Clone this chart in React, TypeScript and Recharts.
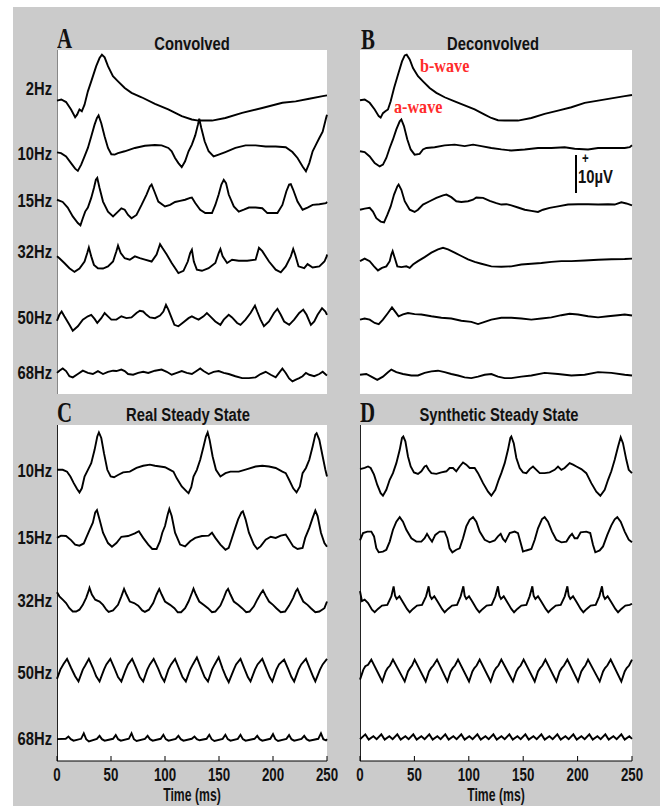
import { LineChart, Line, XAxis, YAxis } from "recharts";

// time in ms, amplitude in µV (relative to each trace's own baseline)
const TIME_TICKS = [0, 50, 100, 150, 200, 250];

const CONV_LABELS = ["2Hz", "10Hz", "15Hz", "32Hz", "50Hz", "68Hz"];
const STEADY_LABELS = ["10Hz", "15Hz", "32Hz", "50Hz", "68Hz"];

// vertical stacking of the rows, µV above the panel floor
const CONV_OFFSETS = [79.3, 65.3, 52.5, 37.2, 19.8, 5.7];
const DECONV_OFFSETS = [79.4, 65.6, 49.8, 35.9, 20.1, 5.2];
const REAL_OFFSETS = [78.7, 60.3, 43.6, 24.7, 5.9];
const SYNTH_OFFSETS = [78.9, 59.6, 42.7, 24.5, 6.3];
const CONV_LABEL_POS = [82.7, 65.1, 52.2, 38.4, 20.8, 5.7];
const STEADY_LABEL_POS = [78.6, 60.3, 43.5, 23.8, 6.2];

type Pt = [number, number];

// ---- A: convolved ----
const CONV_2HZ: Pt[] = [
  [0, 0], [4, 0.3], [8.4, -0.4], [13, -2.4], [16.8, -4.5], [18.6, -3.8], [20.8, -2.4], [23, -2.9],
  [25.5, -1.1], [28.6, 2.5], [31.7, 5.2], [36.3, 9.3], [39.4, 11.5], [41.6, 12.4], [44.1, 11.7],
  [47.2, 9.3], [51.8, 6.6], [56.5, 5.2], [62.7, 3.4], [69, 2.1], [78.3, 0.9], [90.7, -0.9],
  [103, -2.4], [115.5, -4.2], [124.8, -5.1], [131, -5.4], [143.5, -5.4], [155.9, -4.7],
  [171.4, -3.3], [190, -2.0], [208.7, -0.6], [221, -0.2], [233.5, 0.5], [246, 1.2], [250, 1.4],
];
const CONV_10HZ: Pt[] = [
  [0, 0], [3.7, -0.2], [8.4, -1.1], [13, -2.9], [16.8, -4.4], [19.3, -5.0], [22.4, -3.3], [25.5, -1.1],
  [28.6, 1.2], [31.7, 4.3], [34.8, 7.5], [37, 9.3], [38.5, 10.0], [41, 7.9], [44.1, 4.3], [47.2, 1.2],
  [50.3, -0.5], [53.4, -0.6], [56.5, -0.2], [62.7, 0.3], [72.1, 1.2], [81.4, 1.8], [90.7, 2.0],
  [96.9, 1.9], [103.1, 1.2], [106.2, 0.3], [109.3, -1.5], [112.4, -2.9], [115.5, -4.0], [118.6, -2.4],
  [121.8, 0.3], [124.9, 2.1], [128, 4.6], [130.5, 7.5], [131.7, 9.1], [133.6, 6.6], [136.7, 3.0],
  [140.4, 0.3], [145, -1.1], [149.7, -0.6], [155.9, 0.1], [165.2, 1.2], [174.6, 1.9], [183.9, 1.9],
  [193.2, 1.6], [202.5, 1.6], [211.8, 1.4], [218, 0.1], [222.7, -1.5], [227.4, -3.8], [230.5, -5.1],
  [233.6, -2.9], [236.7, 0.3], [239.8, 2.1], [242.9, 3.9], [246, 5.6], [249.1, 9.2], [250, 10.2],
];
const CONV_15HZ: Pt[] = [
  [0, 0], [5.3, -0.6], [9.9, -2.1], [14.6, -4.5], [19.3, -6.3], [21.7, -6.9], [23.9, -5.0], [26.1, -3.2],
  [28.6, -2.1], [31.7, 0.5], [34.2, 3.2], [36, 5.4], [37.3, 5.9], [39.4, 3.2], [42.6, -0.5], [47.2, -3.2],
  [51.9, -4.5], [56.5, -3.2], [59.6, -2.3], [62.7, -2.7], [65.8, -4.1], [69, -5.0], [73.6, -4.1],
  [78.3, -1.4], [82.9, 1.4], [86, 3.6], [87.6, 4.1], [90.1, 2.3], [93.8, -0.5], [100, -1.8],
  [104.7, -1.4], [109.3, -0.6], [114, -0.3], [118.6, 0], [123.3, 0.5], [124.9, 0.6], [128, -0.9],
  [132.6, -2.7], [137.3, -3.6], [143.5, -3.6], [146.6, -1.4], [149.7, 1.4], [152.2, 4.1], [154.4, 5.4],
  [156.5, 4.5], [159, 1.4], [163.7, -1.8], [168.3, -3.2], [173, -2.7], [177.7, -2.1], [183.9, -2.1],
  [190.1, -2.3], [194.8, -3.6], [199.4, -3.6], [204.1, -3.6], [208.7, -1.4], [212.4, 2.3], [214.9, 4.1],
  [216.5, 4.2], [218.7, 2.7], [222.7, -0.5], [227.4, -2.7], [232, -2.1], [236.7, -1.4], [242.9, -1.2],
  [249.1, -0.9], [250, -0.6],
];
const CONV_32HZ: Pt[] = [
  [0, 0], [2.2, -0.5], [6.8, -1.8], [11.5, -3.2], [16.2, -4.2], [20.8, -3.3], [25.5, -1.4], [28, 0.9],
  [29.5, 2.4], [31.7, 0], [34.2, -2.3], [37.9, -3.2], [42.6, -3.3], [47.2, -2.7], [51.9, -1.4], [55, 1.4],
  [56.5, 2.9], [59, 0.9], [62.7, -0.5], [67.4, -0.9], [72.1, 0], [76.7, -0.5], [81.4, -0.9], [87.6, -1.4],
  [92.2, 0.5], [95.4, 3.3], [97.5, 2.3], [101.6, 0.5], [106.2, -1.8], [112.4, -4.5], [117.1, -3.9],
  [121.1, -1.4], [123.3, 0.9], [124.9, 1.8], [126.7, -1.4], [129.5, -3.6], [134.2, -3.9], [140.4, -3.2],
  [146.6, -1.8], [149.7, 0.9], [151.3, 2.0], [153.4, 0], [157.5, -1.8], [162.1, -0.9], [168.3, -1.2],
  [176.1, -1.2], [183.9, -0.9], [187, 2.3], [190.1, 1.4], [196.3, -1.4], [202.5, -3.6], [207.2, -4.3],
  [211.8, -2.7], [216.5, 0], [218.7, 2.0], [220.5, 0.5], [223.6, -2.7], [228.9, -3.2], [232, -2.1],
  [236.7, -3.0], [242.9, -2.7], [247.6, -1.4], [249.7, 0], [250, 0.5],
];
const CONV_50HZ: Pt[] = [
  [0, 0], [2.2, 1.6], [4.3, 2.5], [6.8, 1.2], [11.5, -1.1], [14.6, -2.7], [19.3, -1.5], [23.9, 0.3],
  [28.6, 1.2], [31.7, 1.6], [34.8, 0.5], [37.3, -0.6], [41, 0.7], [44.1, 2.1], [47.2, 1.2], [50.3, 0.3],
  [55, 0.3], [59.6, 1.2], [64.3, 0.7], [69, 0.9], [73.6, 2.1], [76.7, 2.7], [79.8, 2.5], [82.9, 1.6],
  [86, 0.9], [90.7, 0.7], [95.4, 1.4], [98.5, 2.5], [100.9, 4.3], [103.1, 3.0], [106.2, 0.7],
  [108.7, -1.1], [112.4, -1.5], [117.1, -0.4], [121.8, 0.7], [124.9, 1.2], [128, 0.7], [131.1, 0.3],
  [135.7, 1.2], [138.8, 2.1], [141.9, 1.2], [146.6, -0.2], [151.3, -1.1], [154.4, 0.3], [159, 1.6],
  [162.1, 0.9], [166.8, -0.6], [169.9, -1.1], [174.6, 0.3], [179.2, 2.1], [183.3, 4.1], [185.4, 2.5],
  [188.5, 0.3], [191.6, -1.5], [196.3, -0.2], [200.9, 2.1], [204.1, 3.2], [207.2, 1.6], [210.3, -0.2],
  [215, -1.1], [219.6, 0.3], [224.3, 2.1], [228, 3.0], [231.1, 1.6], [235.1, -1.1], [238.2, -0.2],
  [241.3, 1.6], [245.4, 3.4], [248.5, 2.5], [250, 1.6],
];
const CONV_68HZ: Pt[] = [
  [0, 0], [2.2, 0.6], [5.3, 1.2], [8.4, 0.5], [11.5, -0.9], [14.6, -1.2], [19.3, -0.3], [23.9, 0.6],
  [28.6, 0], [33.2, -0.3], [37.9, 0.5], [42.6, -0.3], [47.2, 0.3], [51.9, 0.6], [55, 0.5], [59.6, 0.9],
  [62.7, 0.5], [65.8, -0.3], [70.5, -0.5], [75.2, 0], [79.8, 0.3], [84.5, 0], [90.7, 0.6], [96.9, 0.9],
  [101.6, 0.3], [106.2, -0.5], [110.9, 0], [115.5, 0.5], [120.2, 0], [124.9, -0.3], [129.5, 0.6],
  [132.6, 1.2], [135.7, 0.5], [140.4, -0.3], [145, 0.3], [149.7, 0.5], [154.4, 0], [159, -0.3],
  [165.2, -0.9], [171.4, -1.4], [177.7, -1.4], [183.9, -1.2], [188.5, -0.3], [193.2, 0.3], [197.9, -0.5],
  [202.5, -1.2], [205.6, 0], [208.7, 1.2], [211.8, 0], [214.9, -1.5], [218, -2.3], [221.2, -1.8],
  [224.3, -1.4], [227.4, -0.9], [230.5, 0], [233.6, -0.5], [238.2, -0.9], [242.9, -0.3], [246, 0.3],
  [249.1, -0.5], [250, -0.7],
];

// ---- B: deconvolved ----
const DECONV_2HZ: Pt[] = [
  [0, 0], [4.3, 0.2], [8.9, -0.7], [13.5, -2.5], [17.2, -4.3], [19, -4.7], [21.1, -3.5], [23.3, -3.0],
  [25.7, -2.5], [28.2, -0.3], [31.3, 3.3], [34.9, 6.9], [38.6, 10.5], [41.1, 12.1], [42.9, 12.3],
  [45.7, 11.0], [48.7, 8.7], [53.3, 6.5], [57.9, 5.1], [64, 3.3], [70.2, 2.0], [77.8, 0.8], [87, -0.3],
  [96.2, -1.4], [105.4, -2.5], [114.6, -3.9], [120.7, -4.8], [126.8, -5.4], [133, -5.5], [145.2, -5.5],
  [157.5, -4.8], [169.7, -3.7], [182, -2.8], [194.3, -1.9], [206.5, -0.7], [218.8, -0.1], [231, 0.5],
  [243.3, 1.1], [250, 1.4],
];
const DECONV_10HZ: Pt[] = [
  [0, 0], [4.3, -0.2], [8.9, -1.4], [13.5, -3.2], [18.1, -4.1], [21.1, -3.6], [24.2, -1.8], [27.3, 0.9],
  [30.3, 3.2], [33.4, 5.9], [36.5, 8.1], [38, 8.6], [40.4, 6.8], [43.5, 3.2], [46.6, 0.5], [50.2, -0.9],
  [54.8, -0.7], [57.9, 0.5], [61, 0.9], [68.6, 1.1], [77.8, 1.6], [87, 1.8], [96.2, 1.4], [103.9, 1.8],
  [111.5, 1.4], [120.7, 0.9], [129.9, 0.5], [139.1, 0.2], [151.4, 0.5], [163.6, 0.9], [175.9, 0.9],
  [188.1, 1.1], [197.3, 0.7], [209.6, 0.5], [218.8, 0.9], [231, 0.9], [243.3, 0.9], [247.9, 1.1],
  [250, 1.6],
];
const DECONV_15HZ: Pt[] = [
  [0, 0], [4.3, 0.3], [8.9, 0.5], [11.9, -0.5], [15, -2.3], [19, -3.2], [22.1, -3.4], [25.1, -1.4],
  [28.2, 0.9], [31.3, 4.1], [34.3, 6.3], [35.5, 6.8], [38, 5.4], [41.1, 2.3], [45.7, 0], [50.2, -0.6],
  [53.3, 0], [57.9, 1.4], [64, 2.3], [70.2, 3.2], [76.3, 3.9], [79.4, 4.1], [83.9, 3.4], [88.5, 2.3],
  [93.1, 2.1], [99.3, 2.3], [103.9, 2.7], [106.9, 3.3], [113.1, 3.2], [119.2, 2.4], [125.3, 1.8],
  [129.9, 1.4], [134.5, 1.5], [139.1, 1.2], [145.2, 0.6], [151.4, 0], [157.5, -0.3], [163.6, -0.6],
  [168.2, 0], [174.3, 0.5], [182, 0.9], [191.2, 1.4], [200.4, 1.5], [209.6, 1.5], [218.8, 1.4],
  [228, 1.5], [234.1, 1.4], [240.2, 2.0], [244.8, 1.7], [250, 1.2],
];
const DECONV_32HZ: Pt[] = [
  [0, 0], [4.3, 0.7], [8.9, 0], [12.9, -1.4], [16.5, -2.5], [20.2, -1.8], [24.2, -1.4], [27.3, 0],
  [28.8, 1.8], [30, 2.7], [31.9, 0.9], [34.3, -1.4], [38, -1.6], [42.6, -1.4], [45.7, -1.8], [48.7, -0.9],
  [53.3, 0], [59.4, 1.1], [65.6, 2.3], [71.7, 3.2], [76.3, 3.6], [80.9, 3.2], [87, 2.3], [93.1, 1.4],
  [99.3, 0.5], [105.4, -0.2], [111.5, -0.7], [120.7, -1.4], [129.9, -1.5], [139.1, -1.4], [148.3, -0.9],
  [157.5, -0.7], [166.7, -0.5], [175.9, -0.2], [185.1, 0], [194.3, 0], [206.5, 0.2], [218.8, 0.4],
  [231, 0.5], [243.3, 0.6], [250, 0.7],
];
const DECONV_50HZ: Pt[] = [
  [0, 0], [4.3, 0.3], [8.9, 0], [13.5, -0.9], [17.2, -1.2], [21.1, 0], [25.7, 1.8], [29.4, 3.3],
  [32.5, 2.1], [35.5, 0.9], [39.5, 1.4], [44.1, 1.8], [50.2, 1.5], [56.4, 1.4], [65.6, 0.9], [74.8, 0.5],
  [83.9, 0.3], [93.1, -0.3], [102.3, -0.6], [108.5, -1.2], [114.6, -0.6], [120.7, 0], [129.9, 0.5],
  [139.1, 0.5], [148.3, 0.3], [157.5, 0], [166.7, 0.3], [175.9, 0.6], [185.1, 1.2], [192.7, 1.6],
  [200.4, 1.4], [209.6, 0.9], [218.8, 0.6], [228, 0.9], [237.2, 1.2], [243.3, 1.4], [250, 1.1],
];
const DECONV_68HZ: Pt[] = [
  [0, 0], [5.8, 0.2], [10.4, -0.5], [15.9, -1.4], [21.1, -0.5], [25.7, 0.7], [28.8, 1.4], [33.4, 0.7],
  [39.5, 0.2], [47.2, -0.2], [53.3, -0.2], [59.4, 0.5], [65.6, 0.9], [71.7, 1.1], [77.8, 0.7], [83.9, 0.2],
  [90.1, -0.2], [96.2, -0.7], [102.3, -0.9], [108.5, -0.5], [114.6, 0], [120.7, 0.2], [126.8, -0.5],
  [133, -0.9], [139.1, -0.9], [148.3, -0.5], [157.5, -0.2], [169.7, 0.5], [182, 0.2], [194.3, -0.2],
  [206.5, 0], [218.8, 0.7], [231, 0.5], [243.3, 0], [250, -0.2],
];

// ---- C: real steady state ----
const REAL_10HZ: Pt[] = [
  [0, 0], [5.3, 0], [9.3, -0.5], [12.4, -1.8], [15.5, -3.6], [18.6, -5.2], [20.8, -6.1], [23, -5.0],
  [25.5, -1.8], [28.6, 0], [31.7, 1.8], [34.8, 5.4], [37.3, 9.0], [38.8, 10.1], [41, 8.6], [43.5, 4.5],
  [46.6, 0], [49.7, -1.8], [52.8, -2.0], [56.5, -1.4], [61.2, -0.7], [67.4, -0.5], [73.6, 0.5],
  [79.8, 1.1], [86, 1.4], [90.7, 1.1], [95.4, 0.9], [100, 0.7], [104.7, 0], [107.8, -0.5], [110.9, -2.3],
  [115.5, -4.5], [120.2, -5.9], [121.8, -6.3], [124.3, -4.7], [126.4, -1.8], [129.5, 0], [132.6, 2.7],
  [135.7, 6.3], [137.9, 9.0], [139.5, 10.1], [141.3, 8.1], [144.1, 3.6], [147.2, 0], [151.3, -1.8],
  [156, -0.9], [160.6, -0.5], [168.3, -0.5], [176.1, 0.2], [183.9, 0.9], [190.1, 1.1], [196.3, 0.9],
  [202.5, 0.5], [208.7, -0.5], [211.8, -0.9], [214.9, -2.7], [218.7, -5.0], [221.8, -6.1], [224.9, -4.5],
  [227.4, -0.9], [230.5, 0.5], [233.6, 2.7], [236.7, 6.3], [239.2, 9.5], [240.4, 9.9], [242.9, 8.1],
  [246, 3.6], [248.5, 0], [250, -1.8],
];
const REAL_15HZ: Pt[] = [
  [0, 0], [3.7, 0.6], [8.4, 0.5], [13, -0.6], [16.8, -1.8], [20.8, -2.1], [24.8, -1.5], [27, 0],
  [30.1, 2.1], [33.2, 4.1], [35.4, 6.9], [37, 7.5], [39.4, 5.0], [42.6, 1.4], [47.2, -1.4], [50.9, -2.4],
  [55, -1.4], [59.6, 0.3], [65.8, 0.5], [72.1, 1.2], [75.8, 1.8], [79.8, 0], [84.5, -1.8], [88.2, -3.0],
  [92.2, -3.0], [95.4, -0.9], [97.5, 1.4], [100, 3.2], [102.5, 6.3], [104, 7.8], [106.2, 5.9],
  [109.3, 1.4], [114, -1.8], [118.6, -2.3], [123.3, -0.9], [128, 0], [134.2, 0.5], [140.4, 0.6],
  [143.5, 1.4], [146.6, 0], [151.3, -1.8], [156, -3.2], [159, -2.7], [161.5, -0.5], [164.6, 2.3],
  [167.7, 5.0], [170.8, 6.9], [172.1, 7.2], [174.6, 5.0], [177.7, 1.4], [182.3, -1.8], [185.4, -3.0],
  [188.5, -2.3], [193.2, -0.5], [197.9, 0.3], [202.5, 0], [207.2, 0.6], [211.8, 0.9], [214.9, -0.5],
  [218.7, -2.3], [222.7, -3.0], [227.4, -2.7], [229.8, 0], [233.6, 2.7], [236.7, 5.4], [239.2, 7.4],
  [241.3, 5.9], [244.4, 1.4], [247.6, -1.4], [250, -2.4],
];
const REAL_32HZ: Pt[] = [
  [0, 2.0], [2.2, 0.9], [5.3, 0], [8.4, -0.9], [11.5, -2.3], [14.6, -3.2], [17.7, -3.2], [20.8, -2.7],
  [23.9, -1.4], [27, 0.5], [29.2, 2.3], [30.1, 3.2], [32.3, 1.4], [35.4, 0], [39.4, -0.5], [42.6, -1.4],
  [45.7, -2.7], [47.8, -3.3], [51.9, -2.9], [56.5, -1.4], [59.6, 0.9], [62.1, 2.9], [64.3, 1.4],
  [67.4, -0.5], [71.4, -0.9], [75.2, -1.6], [78.9, -2.9], [81.4, -3.3], [85.1, -2.7], [89.1, -0.9],
  [92.2, 1.4], [94.7, 2.9], [96.9, 1.4], [100, -0.5], [104.7, -1.4], [108.7, -2.3], [111.8, -3.4],
  [114.9, -3.4], [118.6, -2.3], [121.8, -0.5], [124.9, 1.8], [126.4, 3.0], [128.6, 1.4], [131.7, -0.5],
  [135.7, -1.4], [139.8, -2.3], [143.5, -3.4], [146.6, -3.2], [151.3, -1.6], [154.4, 0.5], [156.8, 2.3],
  [158.4, 2.9], [160.6, 1.4], [163.7, -0.5], [167.7, -1.4], [171.4, -2.3], [175.2, -3.4], [178.3, -3.2],
  [182.3, -1.8], [185.4, 0], [188.5, 1.6], [190.7, 2.5], [193.2, 1.1], [196.3, -0.5], [200, -1.4],
  [203.1, -2.3], [207.2, -3.4], [211.2, -3.2], [214.9, -1.6], [218.7, 0.5], [221.2, 2.3], [222.7, 2.9],
  [224.9, 1.4], [228, -0.5], [232, -1.4], [235.1, -2.3], [239.2, -3.4], [242.9, -3.2], [247.6, -2.3],
  [250, -0.5],
];
const REAL_50HZ: Pt[] = [
  [0, -2.5], [3.1, 0], [6.2, 1.6], [9.3, 2.9], [13, 0.5], [16.8, -1.8], [19.9, -3.2], [23.9, 0],
  [26.1, 1.1], [29.5, 2.9], [33.2, 0.5], [36.3, -1.8], [39.4, -3.2], [43.5, 0], [45.7, 1.4], [49.4, 2.9],
  [53.4, 0.2], [56.5, -2.0], [59.6, -3.2], [63.4, -0.2], [65.8, 1.4], [69.6, 2.9], [73.6, 0.2],
  [76.7, -2.0], [79.8, -3.2], [83.6, 0], [86, 1.4], [89.5, 2.9], [93.8, 0.2], [96.9, -2.0], [99.4, -3.2],
  [103.1, 0], [105.6, 1.4], [109.3, 2.9], [113.1, 0.2], [116.2, -2.0], [119.3, -3.2], [123.3, 0],
  [125.8, 1.4], [129.5, 3.3], [133.6, 0.2], [136.7, -2.0], [139.8, -3.2], [143.5, 0], [146, 1.4],
  [149.7, 3.3], [153.4, 0.2], [156.5, -2.0], [159, -3.4], [163.7, 0], [165.8, 1.4], [169.9, 2.9],
  [173.6, 0.2], [176.7, -2.0], [179.2, -3.2], [183.3, 0], [185.7, 1.4], [190.1, 2.9], [193.8, 0.2],
  [196.9, -2.0], [199.4, -3.2], [203.1, 0], [205.6, 1.4], [210.3, 2.7], [214, 0.2], [217.1, -2.0],
  [219.6, -3.2], [223.6, 0], [226.1, 1.4], [230.5, 2.9], [234.2, 0.2], [237.3, -2.0], [239.2, -3.2],
  [243.5, 0], [246, 1.4], [250, 2.9],
];
const REAL_68HZ: Pt[] = [
  [0, 0], [8.1, 0.1], [10.6, 0.7], [12.8, 0], [15.3, -0.4], [22.3, 0.1], [24.8, 1.6], [27, 0],
  [29.5, -0.6], [36.9, 0.1], [39.4, 0.9], [41.6, 0], [44.1, -0.4], [51.9, 0.1], [54.4, 1.1], [56.6, 0],
  [59.1, -0.4], [66.5, 0.1], [69, 1.6], [71.2, 0], [73.7, -0.5], [81.4, 0.1], [83.9, 0.9], [86.1, 0],
  [88.6, -0.4], [96, 0.1], [98.5, 1.2], [100.7, 0], [103.2, -0.4], [109.9, 0.1], [112.4, 0.9],
  [114.6, 0], [117.1, -0.4], [124.8, 0.1], [127.3, 0.7], [129.5, 0], [132, -0.3], [138.5, 0.1],
  [141, 1.2], [143.2, 0], [145.7, -0.5], [153.4, 0.1], [155.9, 1.2], [158.1, 0], [160.6, -0.4],
  [167.4, 0.1], [169.9, 1.2], [172.1, 0], [174.6, -0.4], [182.9, 0.1], [185.4, 0.9], [187.6, 0],
  [190.1, -0.4], [197.5, 0.1], [200, 1.4], [202.2, 0], [204.7, -0.5], [212.4, 0.1], [214.9, 1.1],
  [217.1, 0], [219.6, -0.4], [226.4, 0.1], [228.9, 0.9], [231.1, 0], [233.6, -0.4], [241.9, 0.1],
  [244.4, 1.6], [246.6, 0], [249.1, -0.3], [250, 0],
];

// ---- D: synthetic steady state ----
const SYNTH_10HZ: Pt[] = [
  [0, 0], [4.3, 0.3], [7.4, 0.7], [9.8, 0.3], [12.9, -1.5], [15.9, -4.3], [19, -6.5], [21.1, -7.2],
  [24.2, -5.6], [27.3, -2.9], [30.3, -1.1], [33.4, 1.6], [36.5, 5.2], [38.6, 8.4], [39.8, 8.8],
  [41.7, 7.5], [44.1, 3.4], [46.6, 0.7], [49.6, -0.9], [53.3, -1.3], [56.4, -0.6], [59.4, 0.7], [61, 0.9],
  [63.1, -0.2], [65.6, -1.1], [70.2, -1.3], [74.8, -0.9], [79.4, -0.6], [82.4, 0.3], [85.5, 0.3],
  [88.5, -0.6], [91.6, 0.7], [94.7, 1.8], [97.7, 1.2], [100.8, 0.3], [105.4, 0.3], [108.5, -1.1],
  [113.1, -3.8], [117.7, -6.1], [120.7, -7.2], [124.4, -5.6], [127.5, -2.9], [129.9, -1.1], [133, 1.6],
  [136, 5.2], [138.2, 8.4], [139.1, 8.8], [141.3, 7.0], [143.7, 3.0], [146.8, 0.3], [149.8, -0.9],
  [152.9, -1.1], [156, 0], [159, 0.7], [162.1, -0.2], [165.2, -1.1], [169.7, -1.1], [174.3, -0.9],
  [178.9, -0.2], [182, 0.7], [185.1, -0.2], [188.1, 0.3], [192.7, 1.6], [195.8, 1.2], [198.9, 0.7],
  [203.4, 0], [208, -1.1], [212.6, -3.8], [217.2, -6.1], [220.9, -7.2], [224.9, -5.6], [228, -2.9],
  [231, -0.6], [234.1, 2.5], [237.2, 6.1], [239.6, 8.6], [241.7, 7.0], [244.8, 2.5], [247, -0.2],
  [250, -1.1],
];
const SYNTH_15HZ: Pt[] = [
  [0, 0], [2.8, 2.0], [6.7, 2.4], [10.4, 2.4], [12.9, 1.1], [15, -2.1], [17.2, -3.2], [21.1, -3.0],
  [24.2, -2.5], [27.3, -0.3], [30.3, 2.9], [33.4, 5.1], [36.5, 6.3], [39.5, 5.1], [42.6, 2.9], [47.2, 0.6],
  [51.8, -0.3], [56.4, -0.3], [59.4, 0.6], [61.6, 1.8], [64, 0.6], [66.2, -0.3], [69.2, 1.5], [73.2, 2.4],
  [77.8, 2.4], [80.3, 0.6], [82.4, -2.1], [84.9, -3.2], [88.5, -2.5], [91.6, -2.1], [94.7, 0.6],
  [97.7, 3.8], [100.8, 5.6], [103.9, 6.3], [106.9, 5.1], [110, 2.4], [114.6, 0.2], [119.2, -0.5],
  [123.8, 0], [126.8, 1.1], [129.3, 1.8], [131.4, 0.4], [133.6, -0.3], [137.6, 2.0], [142.2, 2.4],
  [145.2, 2.0], [147.7, -0.7], [149.8, -3.0], [152.9, -2.7], [157.5, -2.3], [160.6, 0.2], [163.6, 3.3],
  [167.3, 5.8], [169.7, 6.3], [172.8, 5.1], [176.5, 2.4], [180.4, 0.2], [185.1, -0.5], [189.7, -0.3],
  [192.7, 1.1], [194.9, 1.8], [197.3, 0.6], [199.8, 0.6], [202.8, 2.2], [208, 2.4], [211.6, 2.0],
  [214.2, -1.2], [216.3, -3.2], [220.3, -2.7], [223.4, -1.6], [227.3, 1.5], [231, 4.1], [234.1, 5.7],
  [236.5, 6.3], [239.6, 5.1], [243.3, 2.4], [247, 0.2], [250, -0.5],
];
const SYNTH_32HZ: Pt[] = [
  [0, 3.2], [1.8, 0.5], [4.3, 0.9], [7.4, 0], [11, -1.8], [13.5, -2.5], [16.5, -1.6], [20.2, -0.7],
  [25.1, -0.5], [28.8, 1.8],
  [30.9, 4.5], [32.2, 2.0], [33.7, 1.1], [36.2, 1.8], [39.5, 0.2], [43.2, -1.6], [45.7, -2.5], [48.7, -1.6],
  [52.4, -0.7], [57, -0.5], [60.7, 1.8],
  [63.1, 4.5], [64.3, 2.0], [65.9, 1.1], [68.3, 1.8], [71.7, 0.2], [75.4, -1.6], [77.8, -2.5], [80.9, -1.6],
  [84.6, -0.7], [89.2, -0.5], [92.5, 1.8],
  [95, 4.5], [96.2, 2.0], [97.7, 1.1], [100.2, 1.8], [103.6, 0.2], [107.2, -1.6], [109.7, -2.5],
  [112.8, -1.6], [116.4, -0.7], [121, -0.5], [124.4, 1.8],
  [126.8, 4.5], [128.1, 2.0], [129.6, 1.1], [132.1, 1.8], [135.4, 0.2], [139.1, -1.6], [141.6, -2.5],
  [144.6, -1.6], [148.3, -0.7], [152.9, -0.5], [155.9, 1.8],
  [158.4, 4.5], [159.6, 2.0], [161.2, 1.1], [163.6, 1.8], [167, 0.2], [170.7, -1.6], [173.1, -2.5],
  [176.2, -1.6], [179.9, -0.7], [184.5, -0.5], [188.2, 1.8],
  [190.6, 4.5], [191.8, 2.0], [193.3, 1.1], [195.8, 1.8], [199.2, 0.2], [202.8, -1.6], [205.3, -2.5],
  [208.4, -1.6], [212, -0.7], [216.6, -0.5], [220, 1.8],
  [222.4, 4.5], [223.7, 2.0], [225.2, 1.1], [227.6, 1.8], [231, 0.2], [234.7, -1.6], [237.2, -2.5],
  [240.2, -1.6], [243.9, -0.7], [247.9, -0.5], [250, -0.2],
];
const SYNTH_50HZ: Pt[] = [
  [0, -2.5], [3.1, 0.2], [4.9, 1.1], [7.4, 1.5], [10.4, 2.9], [20.5, -3.0], [23.6, -0.3], [25.4, 0.6],
  [27.6, 1.3], [30.3, 2.9], [41.1, -3.0], [44.1, -0.3], [46, 0.6], [47.8, 1.3], [50.2, 2.9], [60.4, -3.0],
  [63.4, -0.3], [65.3, 0.6], [67.4, 1.3], [70.8, 2.9], [80.3, -3.0], [83.3, -0.3], [85.2, 0.6], [87.3, 1.3],
  [90.1, 2.9], [100.2, -3.0], [103.3, -0.3], [105.1, 0.6], [107.2, 1.3], [110, 2.9], [120.1, -3.0],
  [123.2, -0.3], [125, 0.6], [127.2, 1.3], [129.9, 2.9], [140.6, -3.0], [143.7, -0.3], [145.5, 0.6],
  [147.7, 1.3], [150.4, 2.9], [160.6, -3.0], [163.6, -0.3], [165.5, 0.6], [167.6, 1.3], [170.4, 2.9],
  [180.5, -3.0], [183.5, -0.3], [185.4, 0.6], [187.5, 1.3], [190.6, 2.9], [200.4, -3.0], [203.4, -0.3],
  [205.3, 0.6], [207.1, 1.3], [209.6, 2.9], [220.3, -3.0], [223.4, -0.3], [225.2, 0.6], [227.3, 1.3],
  [230.4, 2.9], [240.2, -3.0], [243.3, -0.3], [245.1, 0.6], [247.3, 1.3], [250, 2.9],
];
const SYNTH_68HZ: Pt[] = [
  [0, -0.4], [4.9, 0.9], [8, -0.5], [12.3, 0.4], [15.3, -0.4], [19.6, 0.9], [22.7, -0.5], [27, 0.4],
  [30, -0.4], [34.3, 0.9], [37.4, -0.5], [41.7, 0.4], [44.7, -0.4], [49, 0.9], [52.1, -0.5], [56.4, 0.4],
  [59.4, -0.4], [63.7, 0.9], [66.8, -0.5], [71.1, 0.4], [74.1, -0.4], [78.4, 0.9], [81.5, -0.5],
  [85.8, 0.4], [88.8, -0.4], [93.1, 0.9], [96.2, -0.5], [100.5, 0.4], [103.5, -0.4], [107.9, 0.9],
  [111, -0.5], [115.3, 0.4], [118.3, -0.4], [122.6, 0.9], [125.7, -0.5], [130, 0.4], [133, -0.4],
  [137.3, 0.9], [140.4, -0.5], [144.7, 0.4], [147.7, -0.4], [152, 0.9], [155.1, -0.5], [159.4, 0.4],
  [162.4, -0.4], [166.7, 0.9], [169.8, -0.5], [174.1, 0.4], [177.1, -0.4], [181.4, 0.9], [184.5, -0.5],
  [188.8, 0.4], [191.8, -0.4], [196.1, 0.9], [199.2, -0.5], [203.5, 0.4], [206.5, -0.4], [210.8, 0.9],
  [213.9, -0.5], [218.2, 0.4], [221.2, -0.4], [225.5, 0.9], [228.6, -0.5], [232.9, 0.4], [235.9, -0.4],
  [240.2, 0.9], [243.3, -0.5], [247.6, 0.4], [250, -0.3],
];

// Arial Narrow look: Liberation Sans bold squeezed horizontally
const SANS = "'Liberation Sans', Arial, sans-serif";
const SERIF = "'Liberation Serif', 'Times New Roman', serif";
const SQUEEZE = 0.82;
const PX_PER_UV = 3.7;
const LABEL_W = 50;
const PAD_R = 16;

const NarrowTick = ({ x, y, payload, anchor, dy, size, sx = SQUEEZE, format }: any) => (
  <text
    transform={`translate(${x},${y}) scale(${sx},1)`}
    textAnchor={anchor}
    dy={dy}
    fontFamily={SANS}
    fontWeight={700}
    fontSize={size}
    fill="#111"
  >
    {format ? format(payload.value) : payload.value}
  </text>
);

interface PanelProps {
  left: number;
  top: number;
  width: number;
  height: number;
  traces: Pt[][];
  offsets: number[];
  labels?: string[];
  labelPos?: number[];
  showTime?: boolean;
  edge?: string;
}

const TracePanel = ({ left, top, width, height, traces, offsets, labels, labelPos, showTime, edge }: PanelProps) => {
  const yMax = height / PX_PER_UV;
  const axisW = labels ? LABEL_W : 0;
  const padL = labels ? 0 : 14;
  const xAxisH = showTime ? 30 : 0;
  const rowName = (v: number) => (labels && labelPos ? labels[labelPos.indexOf(v)] ?? "" : "");
  return (
    <>
      <div
        style={{
          position: "absolute",
          left,
          top,
          width,
          height,
          background: "#fff",
          borderLeft: edge ? `1px solid ${edge}` : undefined,
          boxSizing: "border-box",
        }}
      />
      <div style={{ position: "absolute", left: left - axisW - padL, top }}>
        <LineChart
          width={padL + axisW + width + PAD_R}
          height={height + xAxisH}
          margin={{ top: 0, right: PAD_R, bottom: 0, left: padL }}
        >
          <XAxis
            type="number"
            dataKey="t"
            domain={[0, 250]}
            ticks={TIME_TICKS}
            hide={!showTime}
            height={xAxisH}
            interval={0}
            tickSize={-5}
            tickMargin={12}
            axisLine={{ stroke: "#000", strokeWidth: 1.2 }}
            tickLine={{ stroke: "#000" }}
            tick={(p: any) => <NarrowTick {...p} anchor="middle" dy="0.71em" size={18} sx={0.74} />}
          />
          <YAxis
            type="number"
            domain={[0, yMax]}
            hide={!labels}
            width={axisW}
            ticks={labelPos}
            interval={0}
            axisLine={false}
            tickLine={false}
            tickSize={0}
            tickMargin={5}
            tick={(p: any) => <NarrowTick {...p} anchor="end" dy="0.36em" size={18} format={rowName} />}
          />
          {traces.map((pts, i) => (
            <Line
              key={i}
              data={pts.map(([t, v]) => ({ t, v: v + offsets[i] }))}
              dataKey="v"
              type="linear"
              stroke="#000"
              strokeWidth={1.9}
              dot={false}
              activeDot={false}
              isAnimationActive={false}
            />
          ))}
        </LineChart>
      </div>
    </>
  );
};

const Text = ({ x, y, children, size, font = SANS, center, color = "#111", sx = SQUEEZE }: any) => (
  <div
    style={{
      position: "absolute",
      left: x,
      top: y,
      fontFamily: font,
      fontWeight: 700,
      fontSize: size,
      lineHeight: 1,
      color,
      whiteSpace: "nowrap",
      transform: `${center ? "translateX(-50%) " : ""}scaleX(${sx})`,
      transformOrigin: center ? "center" : "left",
    }}
  >
    {children}
  </div>
);

export default function App() {
  return (
    <div style={{ position: "absolute", left: 0, top: 0, width: 660, height: 806, background: "#fff", overflow: "hidden" }}>
      <div style={{ position: "absolute", left: 13, top: 7, width: 647, height: 799, background: "#cbcbcb" }} />

      <TracePanel
        left={57}
        top={50}
        width={270}
        height={344}
        traces={[CONV_2HZ, CONV_10HZ, CONV_15HZ, CONV_32HZ, CONV_50HZ, CONV_68HZ]}
        offsets={CONV_OFFSETS}
        labels={CONV_LABELS}
        labelPos={CONV_LABEL_POS}
        edge="#888"
      />
      <TracePanel
        left={360}
        top={50}
        width={272}
        height={344}
        traces={[DECONV_2HZ, DECONV_10HZ, DECONV_15HZ, DECONV_32HZ, DECONV_50HZ, DECONV_68HZ]}
        offsets={DECONV_OFFSETS}
      />
      <TracePanel
        left={57}
        top={425}
        width={270}
        height={336}
        traces={[REAL_10HZ, REAL_15HZ, REAL_32HZ, REAL_50HZ, REAL_68HZ]}
        offsets={REAL_OFFSETS}
        labels={STEADY_LABELS}
        labelPos={STEADY_LABEL_POS}
        showTime
        edge="#222"
      />
      <TracePanel
        left={360}
        top={425}
        width={272}
        height={336}
        traces={[SYNTH_10HZ, SYNTH_15HZ, SYNTH_32HZ, SYNTH_50HZ, SYNTH_68HZ]}
        offsets={SYNTH_OFFSETS}
        showTime
        edge="#222"
      />

      <Text x={57} y={24} size={29} font={SERIF} sx={0.72}>A</Text>
      <Text x={192} y={35} size={18} center>Convolved</Text>
      <Text x={361} y={25} size={29} font={SERIF} sx={0.72}>B</Text>
      <Text x={493} y={35} size={18} center>Deconvolved</Text>
      <Text x={57} y={398} size={29} font={SERIF} sx={0.72}>C</Text>
      <Text x={188} y={406} size={18} center>Real Steady State</Text>
      <Text x={360} y={398} size={29} font={SERIF} sx={0.72}>D</Text>
      <Text x={499} y={406} size={18} center>Synthetic Steady State</Text>

      <Text x={192} y={786} size={18} center sx={0.68}>Time (ms)</Text>
      <Text x={496} y={786} size={18} center sx={0.68}>Time (ms)</Text>

      <Text x={420} y={56} size={19} font={SERIF} color="#ff2b2b" sx={0.85}>b-wave</Text>
      <Text x={394} y={97} size={19} font={SERIF} color="#ff2b2b" sx={0.85}>a-wave</Text>

      <div style={{ position: "absolute", left: 575, top: 155, width: 1.5, height: 38, background: "#000" }} />
      <Text x={582} y={151} size={14}>+</Text>
      <Text x={578} y={167} size={19} sx={0.78}>10µV</Text>
    </div>
  );
}
